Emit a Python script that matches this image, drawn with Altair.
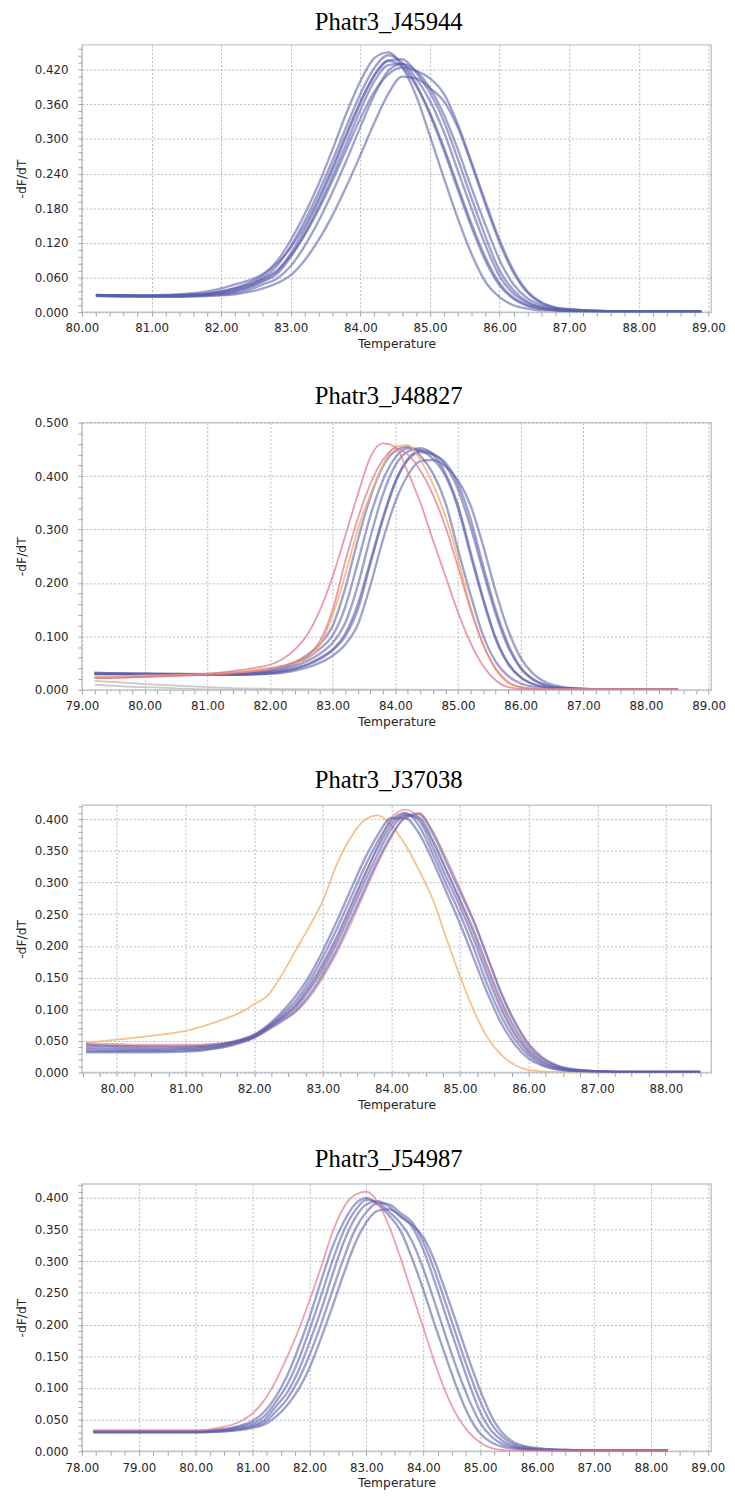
import altair as alt
import pandas as pd

BLUE = "#5b5fab"
RED = "#e3788b"
ORANGE = "#f2b36e"
GRAY = "#c4c4c4"

# ---------------- Panel 1: Phatr3_J45944 ----------------
P1_TITLE = "Phatr3_J45944"
P1_TEMP = [80.2, 80.6, 81.0, 81.4, 81.8,
           82.0, 82.2, 82.4, 82.6, 82.8, 83.0, 83.2, 83.4, 83.6, 83.8, 84.0, 84.2, 84.4,
           84.6, 84.8, 85.0, 85.2, 85.4, 85.6, 85.8, 86.0, 86.2, 86.4, 86.6, 86.8, 87.0,
           87.4, 88.0, 88.5, 88.9]
P1_A = [.029, .028, .028, .029, .032,
        .036, .042, .051, .064, .088, .125, .170, .222, .282, .345, .400, .440, .450,
        .425, .375, .305, .232, .162, .100, .052, .026, .012, .006, .003, .003, .002,
        .001, .001, .001, .001]
P1_B = [.030, .029, .028, .028, .031,
        .034, .039, .047, .059, .080, .115, .158, .208, .263, .322, .378, .423, .445,
        .432, .395, .342, .280, .212, .146, .088, .046, .023, .011, .006, .003, .002,
        .001, .001, .001, .001]
P1_C = [.029, .028, .028, .028, .030,
        .032, .036, .043, .053, .066, .096, .135, .182, .235, .292, .350, .400, .428,
        .430, .405, .366, .312, .245, .178, .115, .062, .032, .016, .008, .004, .003,
        .002, .001, .001, .001]
P1_D = [.029, .028, .027, .027, .029,
        .030, .033, .039, .048, .058, .080, .115, .158, .208, .263, .321, .376, .418,
        .430, .418, .388, .342, .282, .214, .150, .090, .048, .024, .012, .006, .004,
        .002, .001, .001, .001]
P1_E = [.028, .027, .027, .027, .028,
        .029, .031, .035, .041, .050, .064, .090, .125, .168, .218, .272, .328, .378,
        .408, .405, .388, .365, .320, .255, .185, .120, .068, .034, .016, .008, .005,
        .002, .001, .001, .001]
P1_F = [.030, .029, .029, .030, .033,
        .036, .041, .048, .058, .072, .098, .134, .178, .228, .282, .336, .382, .412,
        .424, .418, .405, .378, .325, .258, .190, .125, .072, .036, .017, .008, .005,
        .002, .001, .001, .001]
P1_G = [.029, .029, .029, .031, .036,
        .041, .048, .055, .066, .084, .112, .150, .198, .252, .310, .365, .410, .435,
        .425, .392, .345, .285, .218, .152, .094, .050, .025, .012, .006, .003, .002,
        .001, .001, .001, .001]
P1_H = [.029, .029, .028, .028, .030,
        .033, .037, .044, .055, .070, .102, .143, .192, .246, .305, .362, .410, .436,
        .438, .415, .380, .330, .265, .196, .130, .072, .038, .018, .009, .005, .003,
        .002, .001, .001, .001]

# ---------------- Panel 2: Phatr3_J48827 ----------------
P2_TITLE = "Phatr3_J48827"
P2_TEMP = [79.2, 79.6, 80.0, 80.5, 81.0, 81.4, 81.8,
           82.0, 82.2, 82.4, 82.6, 82.8, 83.0, 83.2, 83.4, 83.6, 83.8, 84.0, 84.2,
           84.4, 84.6, 84.8, 85.0, 85.2, 85.4, 85.6, 85.8, 86.0, 86.2, 86.4, 86.6,
           87.0, 87.5, 88.0, 88.5]
P2_A = [.032, .031, .031, .030, .030, .031, .034,
        .037, .043, .052, .066, .086, .120, .190, .280, .360, .418, .447, .455,
        .438, .405, .350, .262, .178, .102, .053, .026, .012, .006, .003, .002,
        .001, .001, .001, .001]
P2_B = [.030, .030, .029, .029, .028, .028, .030,
        .031, .034, .039, .047, .058, .074, .100, .150, .235, .318, .388, .430,
        .445, .440, .425, .385, .320, .232, .150, .085, .042, .020, .009, .004,
        .002, .001, .001, .001]
P2_C = [.031, .030, .030, .029, .029, .029, .031,
        .033, .037, .044, .054, .068, .088, .125, .195, .285, .365, .420, .446,
        .452, .440, .405, .345, .258, .172, .098, .050, .024, .011, .005, .003,
        .001, .001, .001, .001]
P2_D = [.029, .029, .028, .028, .028, .028, .029,
        .030, .032, .036, .042, .051, .064, .085, .122, .195, .280, .352, .402,
        .428, .430, .418, .392, .345, .270, .185, .112, .060, .030, .014, .007,
        .002, .001, .001, .001]
P2_E = [.031, .031, .030, .030, .029, .030, .032,
        .035, .040, .048, .060, .077, .102, .155, .238, .325, .392, .435, .452,
        .448, .432, .400, .340, .252, .168, .095, .048, .023, .011, .005, .003,
        .001, .001, .001, .001]
P2_F = [.030, .030, .029, .029, .029, .029, .030,
        .032, .035, .040, .048, .060, .076, .105, .160, .240, .322, .390, .432,
        .448, .442, .420, .375, .305, .222, .142, .080, .040, .019, .009, .004,
        .002, .001, .001, .001]
P2_ORANGE = [.025, .026, .027, .028, .030, .033, .038,
             .041, .045, .050, .058, .085, .140, .215, .300, .365, .420, .455, .458,
             .430, .385, .325, .245, .155, .085, .038, .013, .005, .002, .001, .001,
             .001, .001, .001, .001]
P2_RED1 = [.022, .023, .025, .027, .030, .035, .042,
           .047, .058, .076, .104, .150, .212, .288, .365, .435, .461, .455, .407,
           .350, .280, .213, .145, .088, .045, .018, .005, .002, .001, .001, .001,
           .001, .001, .001, .001]
P2_RED2 = [.022, .023, .024, .026, .028, .031, .036,
           .040, .045, .052, .064, .092, .150, .240, .320, .385, .430, .452, .440,
           .410, .365, .305, .230, .150, .085, .040, .015, .005, .002, .001, .001,
           .001, .001, .001, .001]
P2_GRAY_TEMP = [79.2, 79.6, 80.0, 80.5, 81.0, 81.5, 82.0, 83.0, 85.0, 88.5]
P2_GRAY1 = [.017, .014, .011, .008, .005, .003, .002, .001, .000, .000]
P2_GRAY2 = [.010, .007, .005, .003, .001, .0005, .000, .000, .000, .000]

# ---------------- Panel 3: Phatr3_J37038 ----------------
P3_TITLE = "Phatr3_J37038"
P3_TEMP = [79.55, 80.0, 80.5, 81.0, 81.5, 81.8,
           82.0, 82.2, 82.4, 82.6, 82.8, 83.0, 83.2, 83.4, 83.6, 83.8, 84.0, 84.2,
           84.4, 84.6, 84.8, 85.0, 85.2, 85.4, 85.6, 85.8, 86.0, 86.2, 86.4, 86.6,
           87.0, 87.5, 88.0, 88.5]
P3_A = [.044, .042, .041, .041, .045, .052,
        .060, .075, .095, .120, .152, .192, .238, .287, .335, .375, .402, .402,
        .378, .335, .285, .235, .180, .125, .078, .044, .022, .011, .005, .003,
        .001, .001, .001, .001]
P3_B = [.032, .032, .032, .033, .039, .047,
        .055, .068, .082, .097, .122, .155, .194, .240, .288, .335, .375, .402,
        .408, .378, .332, .285, .238, .182, .126, .080, .045, .024, .012, .006,
        .002, .001, .001, .001]
P3_C = [.037, .036, .036, .037, .042, .050,
        .058, .072, .088, .107, .137, .172, .214, .262, .310, .355, .392, .408,
        .398, .356, .308, .262, .210, .152, .100, .060, .032, .016, .008, .004,
        .002, .001, .001, .001]
P3_D = [.040, .039, .038, .039, .043, .051,
        .059, .073, .091, .113, .144, .182, .226, .274, .322, .365, .398, .410,
        .390, .346, .297, .250, .196, .138, .089, .052, .027, .013, .006, .003,
        .002, .001, .001, .001]
P3_E = [.034, .034, .034, .035, .040, .048,
        .056, .070, .085, .102, .130, .163, .204, .251, .299, .345, .385, .406,
        .403, .367, .320, .273, .224, .167, .113, .070, .038, .020, .010, .005,
        .002, .001, .001, .001]
P3_RED1 = [.046, .045, .044, .044, .046, .051,
           .058, .070, .086, .105, .133, .168, .210, .258, .308, .358, .402, .415,
           .402, .365, .318, .270, .218, .160, .106, .064, .034, .017, .008, .004,
           .002, .001, .001, .001]
P3_RED2 = [.043, .042, .042, .042, .045, .050,
           .056, .067, .080, .095, .118, .150, .188, .233, .282, .330, .372, .405,
           .410, .382, .338, .290, .240, .182, .124, .078, .043, .022, .011, .005,
           .002, .001, .001, .001]
P3_ORANGE = [.047, .052, .058, .066, .082, .095,
             .108, .122, .154, .192, .230, .271, .328, .370, .398, .406, .390, .360,
             .320, .274, .212, .152, .098, .055, .028, .012, .004, .002, .001, .001,
             .001, .001, .001, .001]

# ---------------- Panel 4: Phatr3_J54987 ----------------
P4_TITLE = "Phatr3_J54987"
P4_TEMP = [78.2, 78.8, 79.4, 80.0, 80.4, 80.8,
           81.0, 81.2, 81.4, 81.6, 81.8, 82.0, 82.2, 82.4, 82.6, 82.8, 83.0, 83.2,
           83.4, 83.6, 83.8, 84.0, 84.2, 84.4, 84.6, 84.8, 85.0, 85.2, 85.4, 85.6,
           86.0, 86.5, 87.0, 87.5, 88.3]
P4_A = [.032, .032, .032, .032, .034, .041,
        .048, .062, .085, .118, .162, .212, .268, .322, .362, .390, .400, .390,
        .372, .348, .305, .255, .200, .148, .098, .056, .028, .014, .007, .004,
        .002, .001, .001, .001, .001]
P4_B = [.030, .030, .030, .030, .031, .034,
        .037, .042, .054, .072, .097, .132, .178, .228, .280, .328, .362, .380,
        .382, .372, .358, .338, .300, .250, .198, .145, .096, .055, .028, .014,
        .005, .002, .001, .001, .001]
P4_C = [.031, .031, .031, .031, .032, .037,
        .041, .049, .070, .092, .126, .172, .222, .278, .330, .368, .390, .395,
        .386, .370, .355, .318, .268, .213, .160, .108, .062, .032, .016, .008,
        .003, .002, .001, .001, .001]
P4_D = [.031, .031, .031, .031, .033, .039,
        .044, .055, .077, .104, .143, .192, .245, .300, .348, .380, .397, .393,
        .378, .360, .332, .288, .235, .180, .128, .082, .045, .023, .011, .006,
        .002, .001, .001, .001, .001]
P4_E = [.030, .030, .030, .030, .031, .035,
        .039, .045, .062, .082, .112, .152, .200, .253, .305, .350, .378, .392,
        .390, .376, .362, .330, .285, .232, .178, .126, .079, .043, .022, .011,
        .004, .002, .001, .001, .001]
P4_RED = [.033, .033, .033, .033, .037, .048,
          .060, .080, .110, .148, .190, .238, .290, .345, .385, .405, .410, .393,
          .355, .305, .250, .195, .140, .092, .055, .030, .014, .005, .002, .001,
          .001, .001, .001, .001, .001]

FONT = "DejaVu Sans"
TXT = "#262626"


def frame(curves):
    rows = []
    for name, temps, vals in curves:
        assert len(temps) == len(vals), name
        for t, v in zip(temps, vals):
            rows.append({"curve": name, "temp": t, "value": v})
    return pd.DataFrame(rows)


def ticks(start, stop, step, nd):
    n = int(round((stop - start) / step))
    return [round(start + i * step, nd) for i in range(n + 1)]


def panel(title, groups, xdom, xtick, ydom, ytick, ymajor):
    xmajor = "abs(datum.value - round(datum.value)) < 0.001"
    ymajor_test = f"abs(datum.value / {ymajor} - round(datum.value / {ymajor})) < 0.001"
    common = dict(
        grid=True, gridDash=[2, 2], gridColor="#b5b8be", gridWidth=1,
        tickSize=4, tickColor="#a0a3a8", domain=False,
        labelOverlap=False, labelBound=False, labelFlush=False,
        labelFont=FONT, labelFontSize=12, labelColor=TXT,
        titleFont=FONT, titleFontSize=12.5, titleFontWeight="normal", titleColor=TXT,
    )
    xaxis = alt.Axis(
        values=xtick,
        labelExpr=f"{xmajor} ? format(datum.value, '.2f') : ''",
        gridOpacity={"condition": {"test": xmajor, "value": 1}, "value": 0},
        labelPadding=7, title="Temperature", titlePadding=4, **common,
    )
    yaxis = alt.Axis(
        values=ytick,
        labelExpr=f"{ymajor_test} ? format(datum.value, '.3f') : ''",
        gridOpacity={"condition": {"test": ymajor_test, "value": 1}, "value": 0},
        labelPadding=10, title="-dF/dT", titlePadding=6, **common,
    )
    layers = []
    for color, opacity, width, curves in groups:
        df = frame(curves)
        layers.append(
            alt.Chart(df).mark_line(
                color=color, opacity=opacity, strokeWidth=width,
                interpolate="monotone", clip=True,
            ).encode(
                x=alt.X("temp:Q", scale=alt.Scale(domain=xdom, nice=False, zero=False), axis=xaxis),
                y=alt.Y("value:Q", scale=alt.Scale(domain=ydom, nice=False, zero=False), axis=yaxis),
                detail="curve:N",
            )
        )
    return alt.layer(*layers).properties(
        width=638, height=271,
        title=alt.Title(title, font="Liberation Serif", fontSize=25, fontWeight="normal",
                        color="black", anchor="middle", offset=8, dx=-8),
    )


BW = 2.4
BO = 0.58

p1 = panel(
    P1_TITLE,
    [(BLUE, BO, BW, [("a", P1_TEMP, P1_A), ("b", P1_TEMP, P1_B), ("c", P1_TEMP, P1_C),
                     ("d", P1_TEMP, P1_D), ("e", P1_TEMP, P1_E), ("f", P1_TEMP, P1_F),
                     ("g", P1_TEMP, P1_G), ("h", P1_TEMP, P1_H)])],
    [80.0, 89.04], ticks(80.0, 89.0, 0.2, 2),
    [0, 0.463], ticks(0.0, 0.456, 0.012, 3), 0.06,
)
p2 = panel(
    P2_TITLE,
    [(GRAY, 0.9, 1.8, [("g1", P2_GRAY_TEMP, P2_GRAY1), ("g2", P2_GRAY_TEMP, P2_GRAY2)]),
     (BLUE, BO, BW, [("a", P2_TEMP, P2_A), ("b", P2_TEMP, P2_B), ("c", P2_TEMP, P2_C),
                     ("d", P2_TEMP, P2_D), ("e", P2_TEMP, P2_E), ("f", P2_TEMP, P2_F)]),
     (ORANGE, 0.85, 1.8, [("o", P2_TEMP, P2_ORANGE)]),
     (RED, 0.75, 1.8, [("r1", P2_TEMP, P2_RED1), ("r2", P2_TEMP, P2_RED2)])],
    [79.0, 89.04], ticks(79.0, 89.0, 0.2, 2),
    [0, 0.5], ticks(0.0, 0.5, 0.02, 3), 0.1,
)
p3 = panel(
    P3_TITLE,
    [(ORANGE, 0.8, 1.8, [("o", P3_TEMP, P3_ORANGE)]),
     (RED, 0.6, 1.8, [("r1", P3_TEMP, P3_RED1), ("r2", P3_TEMP, P3_RED2)]),
     (BLUE, BO, BW, [("a", P3_TEMP, P3_A), ("b", P3_TEMP, P3_B), ("c", P3_TEMP, P3_C),
                     ("d", P3_TEMP, P3_D), ("e", P3_TEMP, P3_E)])],
    [79.49, 88.66], ticks(79.5, 88.5, 0.25, 2),
    [0, 0.422], ticks(0.0, 0.42, 0.01, 3), 0.05,
)
p4 = panel(
    P4_TITLE,
    [(BLUE, BO, BW, [("a", P4_TEMP, P4_A), ("b", P4_TEMP, P4_B), ("c", P4_TEMP, P4_C),
                     ("d", P4_TEMP, P4_D), ("e", P4_TEMP, P4_E)]),
     (RED, 0.7, 1.8, [("r", P4_TEMP, P4_RED)])],
    [78.0, 89.06], ticks(78.0, 89.0, 0.25, 2),
    [0, 0.422], ticks(0.0, 0.42, 0.01, 3), 0.05,
)

chart = alt.vconcat(
    alt.vconcat(p1, p2, spacing=32),
    alt.vconcat(p3, p4, spacing=34),
    spacing=38,
).properties(
    padding={"left": 6, "top": -9, "right": 0, "bottom": 0},
    background="white",
).configure_view(stroke="#c3c7ce", strokeWidth=1.5)

chart.save("out.html", embed_options={"renderer": "svg", "actions": False})
